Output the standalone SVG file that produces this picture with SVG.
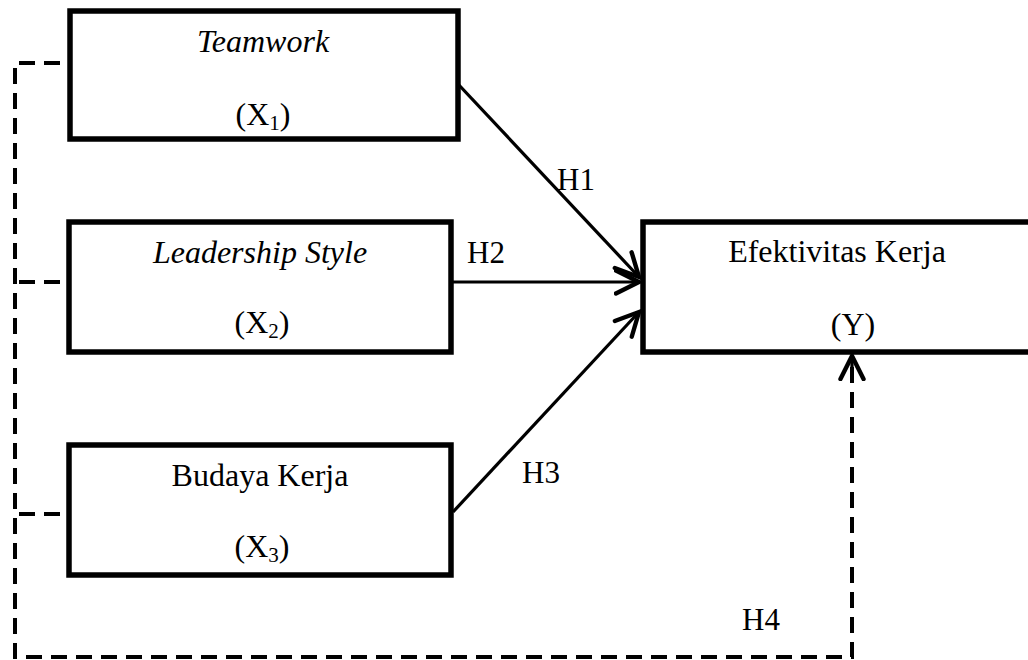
<svg xmlns="http://www.w3.org/2000/svg" width="1028" height="660" viewBox="0 0 1028 660">
<style>
.box{fill:#fff;stroke:#000;stroke-width:5.5}
.t{font-family:"Liberation Serif","Times New Roman",serif;font-size:32px;fill:#000;text-anchor:middle}
.i{font-style:italic}
.sub{font-size:21px}
.lbl{font-family:"Liberation Serif","Times New Roman",serif;font-size:31px;fill:#000}
.c{fill:none;stroke:#000;stroke-width:3.2}
.d{fill:none;stroke:#000;stroke-width:4;stroke-dasharray:16 9}
</style>
<defs>
<marker id="ah" markerUnits="userSpaceOnUse" markerWidth="30" markerHeight="30" viewBox="-22 -12 26 24" refX="0" refY="0" orient="auto">
<path d="M-20,-10 L0,0 L-20,10" fill="none" stroke="#000" stroke-width="3.8" stroke-linecap="round" stroke-linejoin="miter"/>
</marker>
</defs>
<g id="connectors">
<path class="d" d="M60,63 H15 V657 H852 V360"/>
<path class="d" d="M60,282 H15"/>
<path class="d" d="M60,514 H15"/>
<line class="c" x1="852" y1="380" x2="852" y2="356" marker-end="url(#ah)"/>
<line class="c" x1="458" y1="84" x2="639" y2="277" marker-end="url(#ah)"/>
<line class="c" x1="453" y1="282" x2="639" y2="282" marker-end="url(#ah)"/>
<line class="c" x1="453" y1="512" x2="639" y2="312" marker-end="url(#ah)"/>
<text class="lbl" x="557" y="190">H1</text>
<text class="lbl" x="467" y="263">H2</text>
<text class="lbl" x="522" y="483">H3</text>
<text class="lbl" x="742" y="630">H4</text>
</g>
<g id="x1">
<rect class="box" x="70" y="11" width="388" height="128"/>
<text class="t i" x="263" y="52">Teamwork</text>
<text class="t" x="263" y="125">(X<tspan class="sub" dy="5">1</tspan><tspan dy="-5">)</tspan></text>
</g>
<g id="x2">
<rect class="box" x="69" y="222" width="382" height="130"/>
<text class="t i" x="260" y="263">Leadership Style</text>
<text class="t" x="262" y="333">(X<tspan class="sub" dy="5">2</tspan><tspan dy="-5">)</tspan></text>
</g>
<g id="x3">
<rect class="box" x="69" y="445" width="382" height="130"/>
<text class="t" x="260" y="486">Budaya Kerja</text>
<text class="t" x="262" y="557">(X<tspan class="sub" dy="5">3</tspan><tspan dy="-5">)</tspan></text>
</g>
<g id="y">
<rect class="box" x="643" y="222" width="420" height="130"/>
<text class="t" x="837" y="262">Efektivitas Kerja</text>
<text class="t" x="853" y="335">(Y)</text>
</g>
</svg>
